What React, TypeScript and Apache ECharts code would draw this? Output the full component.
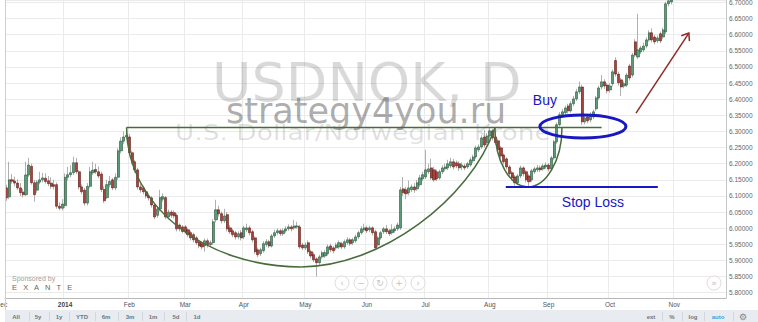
import React, { useEffect, useRef } from "react";
import * as echarts from "echarts";

// ---------- categories (trading days) ----------
const firstDay = "2013-12-03";
const lastAxisDay = "2014-11-27";
const monthShort = ["Jan", "Feb", "Mar", "Apr", "May", "Jun", "Jul", "Aug", "Sep", "Oct", "Nov", "Dec"];

// ---------- daily candles: [open, close, low, high] ----------
const dec2013 = [
  [6.125, 6.094, 6.085, 6.135], [6.097, 6.150, 6.090, 6.206], [6.150, 6.146, 6.138, 6.168], [6.146, 6.140, 6.130, 6.160],
  [6.140, 6.125, 6.118, 6.152], [6.125, 6.110, 6.100, 6.140], [6.112, 6.104, 6.095, 6.122], [6.104, 6.165, 6.100, 6.206],
  [6.165, 6.196, 6.158, 6.218], [6.192, 6.141, 6.135, 6.200], [6.141, 6.104, 6.082, 6.150], [6.118, 6.143, 6.110, 6.150],
  [6.143, 6.150, 6.136, 6.175], [6.150, 6.156, 6.142, 6.172], [6.155, 6.145, 6.138, 6.170], [6.147, 6.138, 6.130, 6.162],
  [6.140, 6.130, 6.122, 6.158], [6.135, 6.130, 6.120, 6.150], [6.135, 6.068, 6.060, 6.142], [6.068, 6.062, 6.055, 6.080],
  [6.062, 6.075, 6.055, 6.090],
];
const jan2014 = [
  [6.070, 6.158, 6.062, 6.170], [6.158, 6.166, 6.148, 6.190], [6.166, 6.172, 6.158, 6.195], [6.172, 6.203, 6.165, 6.222],
  [6.203, 6.175, 6.168, 6.218], [6.175, 6.128, 6.120, 6.180], [6.128, 6.113, 6.105, 6.136], [6.118, 6.078, 6.070, 6.125],
  [6.078, 6.130, 6.070, 6.140], [6.130, 6.175, 6.124, 6.190], [6.172, 6.180, 6.165, 6.206], [6.182, 6.175, 6.168, 6.200],
  [6.175, 6.162, 6.155, 6.192], [6.168, 6.120, 6.112, 6.175], [6.120, 6.085, 6.078, 6.130], [6.095, 6.135, 6.090, 6.150],
  [6.135, 6.145, 6.126, 6.162], [6.150, 6.125, 6.118, 6.156], [6.125, 6.158, 6.118, 6.170], [6.158, 6.240, 6.150, 6.248],
  [6.240, 6.270, 6.232, 6.282], [6.270, 6.283, 6.262, 6.300], [6.283, 6.288, 6.275, 6.312],
];
const feb2014 = [
  [6.283, 6.234, 6.228, 6.292], [6.234, 6.206, 6.198, 6.240], [6.206, 6.181, 6.172, 6.212], [6.181, 6.128, 6.120, 6.188],
  [6.128, 6.119, 6.110, 6.138], [6.125, 6.113, 6.105, 6.132], [6.113, 6.100, 6.092, 6.120], [6.100, 6.094, 6.086, 6.108],
  [6.094, 6.072, 6.064, 6.100], [6.072, 6.035, 6.028, 6.078], [6.040, 6.060, 6.032, 6.068], [6.060, 6.095, 6.052, 6.119],
  [6.090, 6.098, 6.082, 6.108], [6.095, 6.035, 6.028, 6.100], [6.035, 6.050, 6.028, 6.058], [6.050, 6.040, 6.032, 6.056],
  [6.048, 6.038, 6.030, 6.055], [6.040, 5.998, 5.990, 6.046], [6.010, 5.998, 5.990, 6.015], [6.004, 5.990, 5.984, 6.010],
];
const mar2014 = [
  [6.004, 5.989, 5.982, 6.010], [5.995, 5.980, 5.972, 6.000], [5.986, 5.970, 5.962, 5.992], [5.980, 5.964, 5.956, 5.986],
  [5.970, 5.955, 5.948, 5.976], [5.958, 5.945, 5.938, 5.964], [5.952, 5.942, 5.934, 5.958], [5.945, 5.961, 5.927, 5.968],
  [5.961, 5.949, 5.940, 5.968], [5.949, 5.955, 5.942, 5.962], [5.955, 6.020, 5.948, 6.028], [6.026, 6.057, 6.018, 6.088],
  [6.057, 6.045, 6.036, 6.070], [6.045, 6.023, 6.015, 6.052], [6.023, 6.038, 6.016, 6.060], [6.042, 5.998, 5.990, 6.050],
  [6.001, 5.989, 5.982, 6.010], [5.992, 5.980, 5.972, 5.998], [5.986, 5.973, 5.965, 5.992], [5.973, 5.983, 5.966, 5.990],
  [5.986, 5.970, 5.962, 5.994],
];
const apr2014 = [
  [5.973, 6.001, 5.966, 6.008], [5.995, 6.001, 5.988, 6.014], [6.001, 5.986, 5.978, 6.008], [5.989, 5.964, 5.956, 5.995],
  [5.970, 5.927, 5.920, 5.975], [5.933, 5.918, 5.910, 5.940], [5.921, 5.933, 5.914, 5.940], [5.930, 5.952, 5.924, 5.960],
  [5.949, 5.958, 5.942, 5.966], [5.958, 5.945, 5.938, 5.964], [5.945, 5.976, 5.940, 5.982], [5.976, 5.986, 5.970, 5.995],
  [5.986, 5.992, 5.980, 6.000], [5.992, 5.983, 5.976, 5.998], [5.983, 5.992, 5.976, 6.000], [5.992, 5.998, 5.986, 6.006],
  [5.998, 6.004, 5.992, 6.012], [6.004, 5.998, 5.990, 6.010], [6.001, 6.007, 5.995, 6.026], [6.004, 6.007, 5.998, 6.020],
  [6.004, 5.942, 5.936, 6.010], [5.948, 5.939, 5.932, 5.955],
];
const may2014 = [
  [5.939, 5.948, 5.932, 5.956], [5.955, 5.927, 5.920, 5.962], [5.927, 5.914, 5.906, 5.934], [5.918, 5.902, 5.895, 5.925],
  [5.905, 5.893, 5.850, 5.910], [5.893, 5.911, 5.886, 5.918], [5.911, 5.924, 5.904, 5.930], [5.914, 5.924, 5.908, 5.932],
  [5.921, 5.942, 5.915, 5.950], [5.945, 5.933, 5.926, 5.952], [5.939, 5.930, 5.922, 5.945], [5.939, 5.948, 5.932, 5.955],
  [5.942, 5.955, 5.936, 5.962], [5.952, 5.942, 5.935, 5.958], [5.942, 5.958, 5.936, 5.965], [5.955, 5.964, 5.948, 5.972],
  [5.964, 5.952, 5.945, 5.970], [5.955, 5.964, 5.948, 5.970], [5.961, 5.973, 5.955, 5.980], [5.973, 5.986, 5.966, 5.992],
  [5.986, 5.998, 5.980, 6.006], [5.995, 6.001, 5.988, 6.014],
];
const jun2014 = [
  [6.001, 5.992, 5.985, 6.008], [5.995, 6.001, 5.988, 6.008], [6.001, 5.986, 5.978, 6.006], [5.989, 5.939, 5.932, 5.995],
  [5.948, 5.970, 5.942, 5.976], [5.970, 5.986, 5.964, 5.992], [5.989, 5.998, 5.982, 6.004], [5.998, 5.989, 5.982, 6.010],
  [5.992, 5.983, 5.976, 5.998], [5.986, 5.995, 5.980, 6.012], [5.992, 5.998, 5.986, 6.006], [5.998, 6.010, 5.992, 6.018],
  [6.001, 6.119, 5.995, 6.128], [6.122, 6.110, 6.100, 6.159], [6.119, 6.107, 6.090, 6.128], [6.110, 6.125, 6.102, 6.148],
  [6.119, 6.128, 6.112, 6.136], [6.128, 6.119, 6.110, 6.140], [6.122, 6.141, 6.116, 6.150], [6.135, 6.156, 6.128, 6.165],
  [6.153, 6.166, 6.146, 6.175],
];
const jul2014 = [
  [6.159, 6.181, 6.152, 6.243], [6.175, 6.184, 6.168, 6.200], [6.187, 6.156, 6.150, 6.215], [6.181, 6.150, 6.144, 6.190],
  [6.175, 6.153, 6.146, 6.182], [6.156, 6.175, 6.150, 6.182], [6.175, 6.187, 6.168, 6.195], [6.184, 6.190, 6.176, 6.200],
  [6.187, 6.200, 6.180, 6.212], [6.193, 6.206, 6.186, 6.218], [6.206, 6.190, 6.182, 6.215], [6.203, 6.193, 6.186, 6.210],
  [6.200, 6.187, 6.178, 6.208], [6.190, 6.196, 6.180, 6.204], [6.193, 6.187, 6.180, 6.200], [6.190, 6.200, 6.184, 6.206],
  [6.196, 6.212, 6.190, 6.220], [6.209, 6.221, 6.202, 6.228], [6.221, 6.249, 6.215, 6.256], [6.243, 6.252, 6.236, 6.260],
  [6.252, 6.280, 6.246, 6.288], [6.283, 6.258, 6.250, 6.305], [6.265, 6.286, 6.258, 6.295],
];
const aug2014 = [
  [6.286, 6.302, 6.278, 6.314], [6.302, 6.280, 6.272, 6.308], [6.283, 6.265, 6.258, 6.290], [6.271, 6.243, 6.236, 6.278],
  [6.249, 6.224, 6.216, 6.255], [6.227, 6.206, 6.198, 6.232], [6.215, 6.190, 6.182, 6.220], [6.190, 6.169, 6.160, 6.196],
  [6.172, 6.156, 6.148, 6.178], [6.159, 6.141, 6.132, 6.165], [6.141, 6.162, 6.135, 6.168], [6.162, 6.187, 6.155, 6.194],
  [6.187, 6.169, 6.160, 6.192], [6.175, 6.150, 6.142, 6.180], [6.162, 6.144, 6.128, 6.168], [6.150, 6.178, 6.144, 6.184],
  [6.175, 6.184, 6.168, 6.190], [6.181, 6.187, 6.174, 6.196], [6.187, 6.181, 6.174, 6.194], [6.184, 6.193, 6.178, 6.200],
  [6.190, 6.196, 6.184, 6.204],
];
const sep2014 = [
  [6.196, 6.184, 6.176, 6.202], [6.184, 6.218, 6.178, 6.224], [6.218, 6.268, 6.212, 6.274], [6.268, 6.321, 6.262, 6.328],
  [6.321, 6.352, 6.315, 6.360], [6.352, 6.361, 6.345, 6.370], [6.358, 6.373, 6.350, 6.380], [6.379, 6.364, 6.356, 6.386],
  [6.364, 6.386, 6.358, 6.394], [6.386, 6.401, 6.378, 6.410], [6.401, 6.423, 6.394, 6.432], [6.423, 6.438, 6.416, 6.455],
  [6.438, 6.330, 6.320, 6.445], [6.330, 6.342, 6.322, 6.352], [6.345, 6.333, 6.325, 6.352], [6.336, 6.352, 6.328, 6.360],
  [6.345, 6.361, 6.338, 6.368], [6.370, 6.404, 6.364, 6.410], [6.404, 6.435, 6.398, 6.442], [6.438, 6.454, 6.430, 6.475],
  [6.454, 6.441, 6.432, 6.462], [6.444, 6.426, 6.418, 6.450],
];
const oct2014 = [
  [6.429, 6.441, 6.420, 6.450], [6.448, 6.485, 6.440, 6.492], [6.520, 6.478, 6.470, 6.530], [6.478, 6.451, 6.442, 6.486],
  [6.460, 6.438, 6.410, 6.466], [6.441, 6.448, 6.434, 6.456], [6.444, 6.475, 6.438, 6.482], [6.503, 6.466, 6.458, 6.510],
  [6.475, 6.537, 6.468, 6.544], [6.578, 6.537, 6.530, 6.586], [6.531, 6.553, 6.524, 6.665], [6.547, 6.559, 6.540, 6.566],
  [6.553, 6.565, 6.546, 6.575], [6.565, 6.584, 6.558, 6.592], [6.584, 6.606, 6.578, 6.614], [6.606, 6.584, 6.576, 6.620],
  [6.593, 6.578, 6.570, 6.600], [6.581, 6.590, 6.574, 6.598], [6.603, 6.581, 6.574, 6.610], [6.593, 6.615, 6.586, 6.622],
  [6.609, 6.696, 6.602, 6.702], [6.696, 6.705, 6.688, 6.712], [6.702, 6.708, 6.694, 6.715],
];

// ---------- y axis ----------
const priceMin = 5.78355;
const priceMax = 6.70775;
const priceStep = 0.05;

// ---------- annotations (category index, price) ----------
const resistance = { from: 43, to: 213, price: 6.312 };
const cupLeft = [[43, 6.312], [43, 6.072], [70.7, 5.88], [105.5, 5.88]];
const cupRight = [[105.5, 5.88], [133.7, 5.88], [165.9, 6.0875], [174.8, 6.311]];
const handleLeft = [[174.8, 6.311], [174.8, 6.21], [180.1, 6.128], [186.6, 6.128]];
const handleRight = [[186.6, 6.128], [193.1, 6.128], [198.8, 6.21], [198.8, 6.311]];
const stopLoss = { from: 178.7, to: 233.1, price: 6.128 };
const buyZone = { index: 206.3, price: 6.3154, halfIndex: 15.4, halfPrice: 0.0357 };
const trendArrow = [[225.3, 6.357], [244.2, 6.605]];
const buyLabel = { index: 192.7, price: 6.398, text: "Buy" };
const stopLabel = { index: 209.9, price: 6.081, text: "Stop Loss" };

const rangeButtons = ["All", "5y", "1y", "YTD", "6m", "3m", "1m", "5d", "1d"];
const rangeButtonX = [16, 38, 59, 82, 106, 130, 153, 176, 197];
const rangeSeparatorX = [29, 49, 69, 95, 118, 142, 164, 186];
const rightButtons = ["ext", "%", "log", "auto"];
const rightButtonX = [651, 672, 693, 718];
const rightSeparatorX = [662, 682, 704, 733];
const navGlyphs = ["\u2039", "\u2212", "\u21BB", "+", "\u203A"];
const navX = [342, 361, 380, 399, 418];

function weekdays(from: string, to: string): string[] {
  const out: string[] = [];
  const d = new Date(from + "T00:00:00Z");
  const end = new Date(to + "T00:00:00Z");
  while (d <= end) {
    const w = d.getUTCDay();
    if (w !== 0 && w !== 6) out.push(d.toISOString().slice(0, 10));
    d.setUTCDate(d.getUTCDate() + 1);
  }
  return out;
}

const UP = "#5a9c77";
const UP_BORDER = "#2a573d";
const DOWN = "#a8423c";
const DOWN_BORDER = "#641c17";
const WICK = "#9c9c9c";
const GRID = "#ebebeb";
const AXIS_FONT = "'Liberation Sans', Arial, sans-serif";

export default function App() {
  const ref = useRef<HTMLDivElement>(null);

  useEffect(() => {
    document.body.style.margin = "0";
    const dates = weekdays(firstDay, lastAxisDay);
    const candles = [
      ...dec2013, ...jan2014, ...feb2014, ...mar2014, ...apr2014, ...may2014,
      ...jun2014, ...jul2014, ...aug2014, ...sep2014, ...oct2014,
    ];
    const bodies = candles.map(([o, c]) => [o, c, Math.min(o, c), Math.max(o, c)]);

    const monthStarts = new Set<number>();
    dates.forEach((d, i) => {
      if (i === 0 || d.slice(5, 7) !== dates[i - 1].slice(5, 7)) monthStarts.add(i);
    });
    const isStart = (i: number) => monthStarts.has(i);

    const chart = echarts.init(ref.current!, undefined, { renderer: "svg" });
    chart.setOption({
      animation: false,
      grid: { left: 5, right: 32, top: 0, bottom: 24, containLabel: false, outerBoundsMode: "none" },
      xAxis: {
        type: "category",
        data: dates,
        boundaryGap: true,
        axisLine: { show: true, lineStyle: { color: "#b9b9b9", width: 1 } },
        axisTick: { show: false },
        axisLabel: {
          interval: (i: number) => isStart(i),
          margin: 3,
          fontSize: 6.5,
          color: "#555",
          fontFamily: AXIS_FONT,
          formatter: (v: string, i: number) => {
            const m = parseInt(v.slice(5, 7), 10) - 1;
            if (i === 0) return "{c|" + monthShort[m] + "}";
            return m === 0 ? "{y|" + v.slice(0, 4) + "}" : monthShort[m];
          },
          rich: {
            y: { fontSize: 6.5, fontWeight: "bold", color: "#444", fontFamily: AXIS_FONT },
            c: { fontSize: 6.5, color: "#555", fontFamily: AXIS_FONT, padding: [0, 10, 0, 0] },
          },
        },
        splitLine: { show: true, interval: (i: number) => isStart(i), lineStyle: { color: GRID, width: 1 } },
      },
      yAxis: {
        type: "value",
        position: "right",
        min: priceMin,
        max: priceMax,
        minInterval: priceStep,
        maxInterval: priceStep,
        axisLine: { show: true, lineStyle: { color: "#c6c6c6" } },
        axisTick: { show: false },
        axisLabel: {
          margin: 3,
          fontSize: 6.5,
          color: "#666",
          fontFamily: AXIS_FONT,
          formatter: (v: number) => {
            const k = v / priceStep;
            return Math.abs(k - Math.round(k)) < 1e-6 ? v.toFixed(5) : "";
          },
        },
        splitLine: { show: true, lineStyle: { color: GRID, width: 1 } },
      },
      series: [
        {
          type: "candlestick",
          name: "wicks",
          data: candles,
          barWidth: 1,
          z: 2,
          itemStyle: { color: WICK, color0: WICK, borderColor: WICK, borderColor0: WICK, borderWidth: 0.8 },
        },
        {
          type: "candlestick",
          name: "USDNOK",
          data: bodies,
          barWidth: 2.6,
          z: 3,
          itemStyle: { color: UP, color0: DOWN, borderColor: UP_BORDER, borderColor0: DOWN_BORDER, borderWidth: 0.6 },
        },
      ],
    });

    const a = chart.convertToPixel({ xAxisIndex: 0, yAxisIndex: 0 }, [0, 6]) as number[];
    const b = chart.convertToPixel({ xAxisIndex: 0, yAxisIndex: 0 }, [1, 6]) as number[];
    const step = b[0] - a[0];
    const X = (i: number) => a[0] + i * step;
    const Y = (p: number) => (chart.convertToPixel({ xAxisIndex: 0, yAxisIndex: 0 }, [0, p]) as number[])[1];
    const bez = (pts: number[][], color: string) => ({
      type: "bezierCurve",
      z: 10,
      shape: {
        x1: X(pts[0][0]), y1: Y(pts[0][1]),
        cpx1: X(pts[1][0]), cpy1: Y(pts[1][1]),
        cpx2: X(pts[2][0]), cpy2: Y(pts[2][1]),
        x2: X(pts[3][0]), y2: Y(pts[3][1]),
      },
      style: { stroke: color, lineWidth: 1.5, fill: "none" },
    });
    const txt = (x: number, y: number, text: string, font: string, fill: string, align = "left", z = 20, scaleX = 1) => ({
      type: "text",
      x, y, z, scaleX,
      style: { text, font, fill, textAlign: align, textVerticalAlign: "middle" },
    });

    const CUP = "#476b3b";
    const BLUE = "#1717c4";
    const ARROW = "#8e2a26";

    const ax1 = X(trendArrow[0][0]), ay1 = Y(trendArrow[0][1]);
    const ax2 = X(trendArrow[1][0]), ay2 = Y(trendArrow[1][1]);
    const back = Math.atan2(ay1 - ay2, ax1 - ax2);
    const headLen = 8;
    const headAng = (38 * Math.PI) / 180;

    const graphics: any[] = [
      // watermarks
      txt(212, 82, "USDNOK, D", "54px 'DejaVu Sans'", "rgba(0,0,0,0.15)", "left", 1),
      txt(175, 132.5, "U.S. Dollar/Norwegian Krone", "21px 'DejaVu Sans'", "rgba(0,0,0,0.13)", "left", 1, 1.26),
      txt(226, 111, "strategy4you.ru", "35px 'DejaVu Sans'", "rgba(70,70,70,0.45)", "left", 1),
      // left border
      { type: "line", z: 5, shape: { x1: 5.5, y1: 0, x2: 5.5, y2: 310 }, style: { stroke: "#cfcfcf", lineWidth: 1 } },
      // cup and handle
      {
        type: "line", z: 10,
        shape: { x1: X(resistance.from), y1: Y(resistance.price), x2: X(resistance.to), y2: Y(resistance.price) },
        style: { stroke: CUP, lineWidth: 1.5 },
      },
      bez(cupLeft, CUP), bez(cupRight, CUP), bez(handleLeft, CUP), bez(handleRight, CUP),
      // stop loss
      {
        type: "line", z: 10,
        shape: { x1: X(stopLoss.from), y1: Y(stopLoss.price), x2: X(stopLoss.to), y2: Y(stopLoss.price) },
        style: { stroke: BLUE, lineWidth: 2 },
      },
      txt(X(stopLabel.index), Y(stopLabel.price), stopLabel.text, "14px 'Liberation Sans'", BLUE, "center", 12),
      txt(X(buyLabel.index), Y(buyLabel.price), buyLabel.text, "14px 'Liberation Sans'", BLUE, "center", 12),
      {
        type: "ellipse", z: 11,
        shape: {
          cx: X(buyZone.index), cy: Y(buyZone.price),
          rx: buyZone.halfIndex * step, ry: Math.abs(Y(buyZone.price + buyZone.halfPrice) - Y(buyZone.price)),
        },
        style: { stroke: BLUE, lineWidth: 3, fill: "none" },
      },
      // trend arrow
      { type: "line", z: 10, shape: { x1: ax1, y1: ay1, x2: ax2, y2: ay2 }, style: { stroke: ARROW, lineWidth: 1.5 } },
      {
        type: "polyline", z: 10,
        shape: {
          points: [
            [ax2 + headLen * Math.cos(back + headAng), ay2 + headLen * Math.sin(back + headAng)],
            [ax2, ay2],
            [ax2 + headLen * Math.cos(back - headAng), ay2 + headLen * Math.sin(back - headAng)],
          ],
        },
        style: { stroke: ARROW, lineWidth: 1.5, fill: "none" },
      },
      // sponsor
      txt(12, 278, "Sponsored by", "7px 'Liberation Sans'", "#a0a0a0", "left", 20),
      txt(12, 287.5, "E   X   A   N   T   E", "7.5px 'Liberation Sans'", "#666", "left", 20),
      // bottom toolbar
      { type: "rect", z: 19, shape: { x: 5, y: 310, width: 753, height: 12 }, style: { fill: "#e8ebef" } },
      // right bottom corner
      { type: "rect", z: 19, shape: { x: 727, y: 299, width: 31, height: 11 }, style: { fill: "#ffffff" } },
    ];

    rangeButtons.forEach((t, k) => {
      graphics.push(txt(rangeButtonX[k], 316.5, t, "bold 6px 'Liberation Sans'", "#6d7884", "center", 21));
    });
    rangeSeparatorX.forEach((x) => {
      graphics.push({ type: "line", z: 21, shape: { x1: x + 0.5, y1: 312, x2: x + 0.5, y2: 321 }, style: { stroke: "#d3d7dd", lineWidth: 1 } });
    });
    rightButtons.forEach((t, k) => {
      graphics.push(txt(rightButtonX[k], 316.5, t, "bold 6px 'Liberation Sans'", t === "auto" ? "#4a9bd6" : "#6d7884", "center", 21));
    });
    rightSeparatorX.forEach((x) => {
      graphics.push({ type: "line", z: 21, shape: { x1: x + 0.5, y1: 312, x2: x + 0.5, y2: 321 }, style: { stroke: "#d3d7dd", lineWidth: 1 } });
    });
    graphics.push(txt(743, 316.5, "\u2699", "9px 'DejaVu Sans'", "#7d8793", "center", 21));

    navX.forEach((x, k) => {
      graphics.push({ type: "circle", z: 20, shape: { cx: x, cy: 283, r: 7 }, style: { fill: "rgba(255,255,255,0.85)", stroke: "#dddddd", lineWidth: 1 } });
      graphics.push(txt(x, 283, navGlyphs[k], "9px 'DejaVu Sans'", "#c2c2c2", "center", 21));
    });
    graphics.push({ type: "circle", z: 20, shape: { cx: 714, cy: 283, r: 7 }, style: { fill: "rgba(255,255,255,0.85)", stroke: "#dddddd", lineWidth: 1 } });
    graphics.push(txt(714, 283, "\u00BB", "9px 'DejaVu Sans'", "#c2c2c2", "center", 21));

    chart.setOption({ graphic: graphics });

    return () => chart.dispose();
  }, []);

  return <div ref={ref} style={{ width: 758, height: 322 }} />;
}
